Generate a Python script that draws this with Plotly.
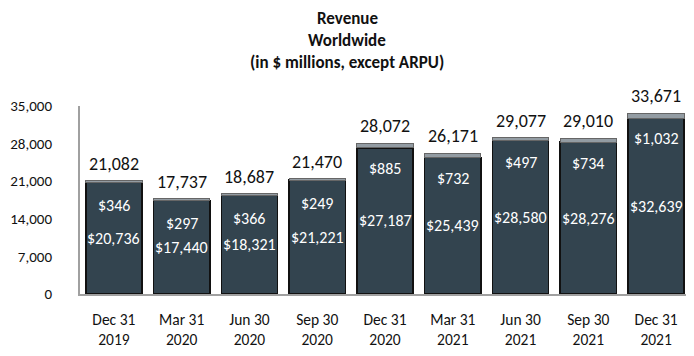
import plotly.graph_objects as go

categories = ["Dec 31<br>2019", "Mar 31<br>2020", "Jun 30<br>2020", "Sep 30<br>2020", "Dec 31<br>2020",
              "Mar 31<br>2021", "Jun 30<br>2021", "Sep 30<br>2021", "Dec 31<br>2021"]
base_values = [20736, 17440, 18321, 21221, 27187, 25439, 28580, 28276, 32639]
top_values = [346, 297, 366, 249, 885, 732, 497, 734, 1032]
totals = [21082, 17737, 18687, 21470, 28072, 26171, 29077, 29010, 33671]
y_ticks = [0, 7000, 14000, 21000, 28000, 35000]

FONT = "Carlito, Lato, 'Open Sans', sans-serif"

fig = go.Figure()
fig.add_trace(go.Bar(
    x=categories, y=base_values,
    marker=dict(color="#33444f", line=dict(color="#111111", width=1.5)),
    textposition="none",
    hoverinfo="skip",
))
fig.add_trace(go.Bar(
    x=categories, y=top_values,
    marker=dict(color="#939ca3", line=dict(color="#666666", width=1)),
    textposition="none",
    hoverinfo="skip",
))

annotations = []
for c, b, t, tv in zip(categories, base_values, totals, top_values):
    annotations.append(dict(x=c, y=t, text=f"{t:,}", showarrow=False, yanchor="bottom",
                            yshift=4, font=dict(size=18, color="#111111", family=FONT)))
    annotations.append(dict(x=c, y=t, text=f"${tv:,}", showarrow=False, yanchor="middle",
                            yshift=-25, font=dict(size=16, color="white", family=FONT)))
    annotations.append(dict(x=c, y=b / 2, text=f"${b:,}", showarrow=False, yanchor="middle",
                            font=dict(size=16, color="white", family=FONT)))

title_lines = ["Revenue", "Worldwide", "(in $ millions, except ARPU)"]
for i, line in enumerate(title_lines):
    annotations.append(dict(xref="paper", yref="paper", x=0.438, y=1.0, yshift=88 - 22 * i,
                            text=f"<b>{line}</b>", showarrow=False, xanchor="center", yanchor="middle",
                            borderpad=0,
                            font=dict(size=17, color="#111111", family=FONT)))

# page body has an 8px margin; compensate so the chart lands where the reference has it
fig.update_layout(
    width=686, height=348,
    margin=dict(l=72, r=4, t=98, b=62),
    barmode="stack", bargap=0.17,
    plot_bgcolor="white", paper_bgcolor="white",
    showlegend=False,
    annotations=annotations,
    font=dict(family=FONT, color="#111111"),
)
fig.update_yaxes(range=[0, 35000], tickvals=y_ticks, tickformat=",", showgrid=False,
                 showline=True, linecolor="#a0a0a0", linewidth=2, ticks="", automargin=False,
                 ticklabelstandoff=23, tickfont=dict(size=15, family=FONT), zeroline=False)
fig.update_xaxes(showline=True, linecolor="#a0a0a0", linewidth=2, ticks="", automargin=False,
                 ticklabelstandoff=10, tickfont=dict(size=15.5, family=FONT))

fig.write_html("out.html")
